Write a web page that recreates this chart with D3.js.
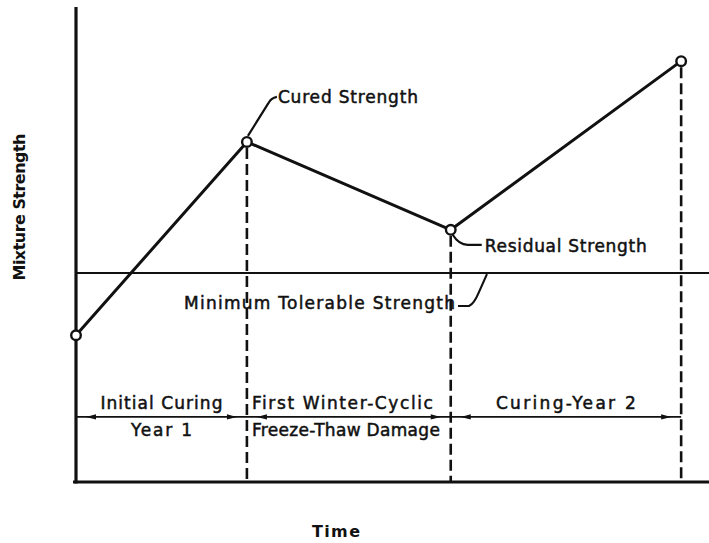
<!DOCTYPE html>
<html>
<head>
<meta charset="utf-8">
<script src="https://cdn.jsdelivr.net/npm/d3@7"></script>
<style>
  html, body { margin: 0; padding: 0; background: #fff; }
  svg { display: block; }
  text { font-family: "DejaVu Sans", sans-serif; fill: #111; }
  text.lbl { stroke: #111; stroke-width: 0.5px; }
</style>
</head>
<body>
<div id="chart"></div>
<script>
// Strength development of a stabilized mixture over time (schematic).
const timePoints = [0, 27, 59.2, 95.6];          // time, arbitrary units
const strength = [30.9, 71.6, 53.1, 88.6];       // mixture strength, arbitrary units
const pointLabels = ["", "Cured Strength", "Residual Strength", ""];
const minTolerable = 44;
const minLabel = "Minimum Tolerable Strength";
const phaseTop = ["Initial Curing", "First Winter-Cyclic", "Curing-Year 2"];
const phaseBottom = ["Year 1", "Freeze-Thaw Damage", ""];
const phaseLevel = 13.7;
const xTitle = "Time";
const yTitle = "Mixture Strength";

// Set widths for the hand-lettered labels
const labelWidth = {
  "Cured Strength": 140, "Residual Strength": 162, "Minimum Tolerable Strength": 271,
  "Initial Curing": 122, "Year 1": 61, "First Winter-Cyclic": 181,
  "Freeze-Thaw Damage": 188, "Curing-Year 2": 140,
  "Time": 48, "Mixture Strength": 147
};

const W = 709, H = 543;
const x = d3.scaleLinear().domain([0, 100]).range([76, 709]);
const y = d3.scaleLinear().domain([0, 100]).range([482, 7]);

const svg = d3.select("#chart").append("svg")
  .attr("width", W).attr("height", H);

const ink = "#111";

function label(txt, px, py, opts = {}) {
  const t = svg.append("text")
    .attr("class", opts.bold ? "title" : "lbl")
    .attr("x", px).attr("y", py)
    .attr("text-anchor", opts.anchor || "start")
    .attr("dominant-baseline", "middle")
    .attr("font-size", opts.bold ? 16 : 17)
    .attr("font-weight", opts.bold ? "bold" : "normal")
    .attr("textLength", labelWidth[txt])
    .attr("lengthAdjust", "spacing")
    .text(txt);
  if (opts.transform) t.attr("transform", opts.transform);
  return t;
}

// Axes frame
svg.append("line")
  .attr("x1", x(0)).attr("x2", x(0))
  .attr("y1", y(0) + 1.5).attr("y2", y(100))
  .attr("stroke", ink).attr("stroke-width", 3.2);
svg.append("line")
  .attr("x1", x(0) - 3).attr("x2", x(100))
  .attr("y1", y(0)).attr("y2", y(0))
  .attr("stroke", ink).attr("stroke-width", 2.8);

// Minimum tolerable strength
svg.append("line")
  .attr("x1", x(0)).attr("x2", x(100))
  .attr("y1", y(minTolerable)).attr("y2", y(minTolerable))
  .attr("stroke", ink).attr("stroke-width", 2);

// Dashed verticals at each phase boundary
svg.selectAll("line.drop")
  .data(timePoints.slice(1))
  .join("line")
  .attr("class", "drop")
  .attr("x1", d => x(d)).attr("x2", d => x(d))
  .attr("y1", (d, i) => y(strength[i + 1]) + 6)
  .attr("y2", y(0))
  .attr("stroke", ink).attr("stroke-width", 2.6)
  .attr("stroke-dasharray", "11,5");

// Phase span line with arrowheads
svg.append("line")
  .attr("x1", x(timePoints[0])).attr("x2", x(timePoints[3]))
  .attr("y1", y(phaseLevel)).attr("y2", y(phaseLevel))
  .attr("stroke", ink).attr("stroke-width", 1.8);

const spans = d3.pairs(timePoints);
const arrowHead = (tipX, dir) => {
  const yy = y(phaseLevel);
  return `M${tipX},${yy} L${tipX - dir * 10},${yy - 2.6} L${tipX - dir * 10},${yy + 2.6} Z`;
};
spans.forEach(([a, b]) => {
  svg.append("path").attr("d", arrowHead(x(a) + 10, -1)).attr("fill", ink);
  svg.append("path").attr("d", arrowHead(x(b) - 10, 1)).attr("fill", ink);
});

// Strength curve
const pts = timePoints.map((t, i) => [x(t), y(strength[i])]);
svg.append("path")
  .attr("d", d3.line()(pts))
  .attr("fill", "none").attr("stroke", ink)
  .attr("stroke-width", 3).attr("stroke-linejoin", "round");

svg.selectAll("circle.pt")
  .data(pts)
  .join("circle")
  .attr("class", "pt")
  .attr("cx", d => d[0]).attr("cy", d => d[1])
  .attr("r", 4.8)
  .attr("fill", "#fff").attr("stroke", ink).attr("stroke-width", 2.4);

// Leader lines for the labelled points
const [cx1, cy1] = pts[1];
svg.append("path")
  .attr("d", `M${cx1 + 1},${cy1 - 6} L${cx1 + 21},${cy1 - 38} Q${cx1 + 24},${cy1 - 44} ${cx1 + 30},${cy1 - 45}`)
  .attr("fill", "none").attr("stroke", ink).attr("stroke-width", 2.2);
label(pointLabels[1], cx1 + 31, cy1 - 44);

const [cx2, cy2] = pts[2];
svg.append("path")
  .attr("d", `M${cx2 + 2},${cy2 + 5} Q${cx2 + 8},${cy2 + 15} ${cx2 + 17},${cy2 + 15} L${cx2 + 31},${cy2 + 15}`)
  .attr("fill", "none").attr("stroke", ink).attr("stroke-width", 2.2);
label(pointLabels[2], cx2 + 34, cy2 + 17);

// Minimum tolerable label with leader to the line
const my = y(minTolerable);
label(minLabel, 184, my + 31);
svg.append("path")
  .attr("d", `M458,${my + 33} L469,${my + 33} Q474,${my + 31} 479,${my + 19} L487,${my + 1}`)
  .attr("fill", "none").attr("stroke", ink).attr("stroke-width", 2);

// Phase labels
spans.forEach(([a, b], i) => {
  const isMid = i === 1;
  const tx = isMid ? x(a) + 5 : (x(a) + x(b)) / 2;
  const anchor = isMid ? "start" : "middle";
  label(phaseTop[i], tx, y(phaseLevel) - 13, { anchor });
  if (phaseBottom[i]) label(phaseBottom[i], tx, y(phaseLevel) + 14, { anchor });
});

// Axis titles
label(xTitle, 336, 532, { anchor: "middle", bold: true });
label(yTitle, 0, 0, { anchor: "middle", bold: true, transform: "translate(20,207) rotate(-90)" });
</script>
</body>
</html>
